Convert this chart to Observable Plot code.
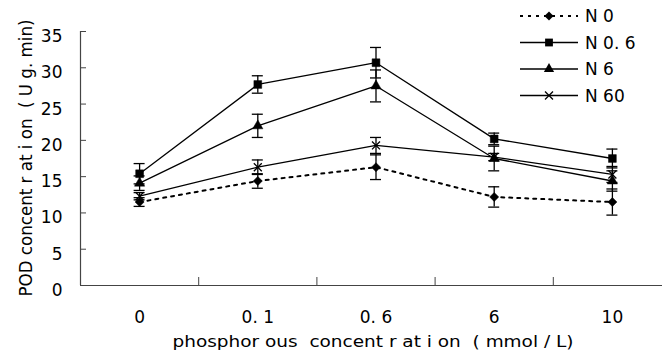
<!DOCTYPE html>
<html>
<head>
<meta charset="utf-8">
<script src="https://cdn.jsdelivr.net/npm/d3@7"></script>
<script src="https://cdn.jsdelivr.net/npm/@observablehq/plot@0.6"></script>
<style>
  html, body { margin: 0; padding: 0; background: #fff; }
  #wrap { position: relative; width: 662px; height: 351px; overflow: hidden; }
  #legend { position: absolute; left: 0; top: 0; pointer-events: none; }
</style>
</head>
<body>
<div id="wrap"></div>
<script>
// ---- data ----
const categories = ["0", "0. 1", "0. 6", "6", "10"];
const seriesNames = ["N 0", "N 0. 6", "N 6", "N 60"];
const n0   = [11.5, 14.4, 16.3, 12.2, 11.5];
const n0Err = [0.6, 1.0, 1.7, 1.4, 1.8];
const n06  = [15.4, 27.7, 30.7, 20.2, 17.5];
const n06Err = [1.4, 1.2, 2.1, 0.8, 1.3];
const n6   = [14.1, 22.0, 27.5, 17.5, 14.4];
const n6Err = [1.0, 1.6, 2.2, 1.7, 1.4];
const n60  = [12.3, 16.3, 19.3, 17.7, 15.3];
const n60Err = [0.5, 1.0, 1.1, 0.5, 1.1];
const yTicks = [0, 5, 10, 15, 20, 25, 30, 35];
const yTitle = "POD concent r at i on  ( U g. min)";
const xTitle = "phosphor ous  concent r at i on  ( mmol / L)";

const FONT = "'DejaVu Sans', Verdana, sans-serif";
const values = [n0, n06, n6, n60];
const errors = [n0Err, n06Err, n6Err, n60Err];
const symbols = ["diamond2", "square", "triangle", "times"];
const radii = [4.1, 4.4, 3.8, 3.7];

const rows = [];
seriesNames.forEach((s, k) => {
  categories.forEach((c, i) => {
    rows.push({series: s, k, i, v: values[k][i], e: errors[k][i]});
  });
});
const dotted = rows.filter(d => d.k === 0);
const solid = rows.filter(d => d.k !== 0);
const boundaries = d3.range(1, categories.length).map(i => i - 0.5);

const marks = [
  // axis lines
  Plot.ruleY([0], {stroke: "#444", strokeWidth: 1.2}),
  Plot.ruleX([-0.5], {stroke: "#444", strokeWidth: 1.2}),
  // inward ticks
  Plot.ruleY(yTicks.slice(1), {x1: -0.5, x2: -0.5, insetRight: -6, stroke: "#444"}),
  Plot.ruleX(boundaries, {y1: 0, y2: 0, insetTop: -8, stroke: "#444"}),
  Plot.axisY({ticks: yTicks, tickSize: 0, tickPadding: 18, fontSize: 17, dy: 5, label: null}),
  Plot.axisX({ticks: d3.range(categories.length), tickSize: 0, tickPadding: 25, fontSize: 17,
              tickFormat: i => categories[i], label: null}),
  // lines
  Plot.line(solid, {x: "i", y: "v", z: "series", stroke: "black", strokeWidth: 1.3}),
  Plot.line(dotted, {x: "i", y: "v", stroke: "black", strokeWidth: 2, strokeDasharray: "3,5"}),
  // error bars
  Plot.ruleX(rows, {x: "i", y1: d => d.v - d.e, y2: d => d.v + d.e, stroke: "black", strokeWidth: 1.3}),
  Plot.ruleY(rows, {y: d => d.v - d.e, x1: "i", x2: "i", insetLeft: -5.5, insetRight: -5.5, stroke: "black", strokeWidth: 1.3}),
  Plot.ruleY(rows, {y: d => d.v + d.e, x1: "i", x2: "i", insetLeft: -5.5, insetRight: -5.5, stroke: "black", strokeWidth: 1.3}),
];
// markers
seriesNames.forEach((s, k) => {
  const data = rows.filter(d => d.k === k);
  if (symbols[k] === "times") {
    marks.push(Plot.dot(data, {x: "i", y: "v", symbol: symbols[k], r: radii[k], stroke: "black", strokeWidth: 1.3, fill: "none"}));
  } else {
    marks.push(Plot.dot(data, {x: "i", y: "v", symbol: symbols[k], r: radii[k], fill: "black", stroke: "black", strokeWidth: 0.5}));
  }
});

const chart = Plot.plot({
  width: 662,
  height: 351,
  marginLeft: 80,
  marginRight: 0,
  marginTop: 31,
  marginBottom: 66,
  style: {fontFamily: FONT, fontSize: "16px", color: "black", background: "white", overflow: "visible"},
  x: {domain: [-0.5, categories.length - 0.5], range: [80, 671], axis: null},
  y: {domain: [0, 35], range: [285, 31], axis: null},
  marks
});
const wrap = document.getElementById("wrap");
wrap.appendChild(chart);

// axis titles, placed from the plot's own scales and fitted to the reference's lengths
const ys = chart.scale("y"), xs = chart.scale("x");
const yMid = (ys.range[0] + ys.range[1]) / 2;
const svg = d3.select(chart);
svg.append("text")
  .attr("transform", `translate(${xs.range[0] - 48},${yMid}) rotate(-90)`)
  .attr("text-anchor", "middle")
  .attr("font-family", FONT).attr("font-size", 17).attr("fill", "black")
  .attr("textLength", 277).attr("lengthAdjust", "spacingAndGlyphs")
  .style("white-space", "pre")
  .text(yTitle);
svg.append("text")
  .attr("x", 373).attr("y", ys.range[0] + 62)
  .attr("text-anchor", "middle")
  .attr("font-family", FONT).attr("font-size", 16).attr("fill", "black")
  .attr("textLength", 401).attr("lengthAdjust", "spacingAndGlyphs")
  .style("white-space", "pre")
  .text(xTitle);

// ---- legend overlay ----
const leg = d3.select(wrap).append("svg").attr("id", "legend")
  .attr("width", 662).attr("height", 351)
  .style("font-family", FONT);
const d3sym = {diamond2: d3.symbolDiamond2, square: d3.symbolSquare, triangle: d3.symbolTriangle, times: d3.symbolTimes};
seriesNames.forEach((s, k) => {
  const y = 16 + k * 26.5;
  const g = leg.append("g").attr("transform", `translate(0,${y})`);
  g.append("line").attr("x1", 520).attr("x2", 578).attr("y1", 0).attr("y2", 0)
    .attr("stroke", "black").attr("stroke-width", k === 0 ? 2 : 1.3)
    .attr("stroke-dasharray", k === 0 ? "3,5" : null);
  const size = Math.PI * radii[k] * radii[k];
  const p = g.append("path").attr("transform", "translate(549,0)")
    .attr("d", d3.symbol(d3sym[symbols[k]], size)());
  if (symbols[k] === "times") p.attr("fill", "none").attr("stroke", "black").attr("stroke-width", 1.3);
  else p.attr("fill", "black");
  g.append("text").attr("x", 585).attr("y", 6).attr("font-size", 17).attr("fill", "black").text(s);
});
</script>
</body>
</html>
